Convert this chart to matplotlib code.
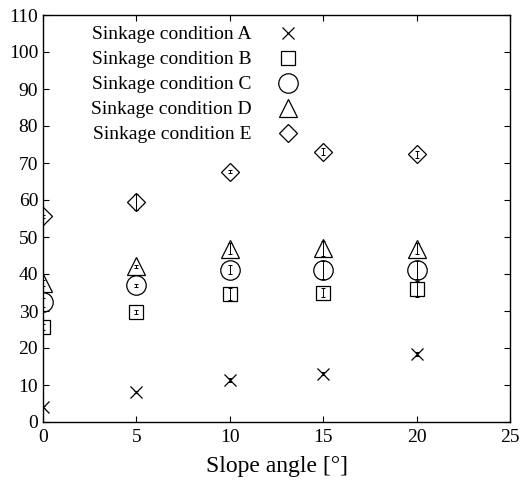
import matplotlib
matplotlib.use("Agg")
from matplotlib import pyplot as plt

plt.rcParams['font.family'] = ['Liberation Serif', 'DejaVu Serif']

slope = [0, 5, 10, 15, 20]
labels = ["Sinkage condition A", "Sinkage condition B", "Sinkage condition C",
          "Sinkage condition D", "Sinkage condition E"]
values_a = [4.0, 8.2, 11.4, 13.1, 18.3]
values_b = [25.8, 29.8, 34.6, 34.9, 35.9]
values_c = [32.3, 36.9, 41.2, 41.1, 41.1]
values_d = [37.6, 42.1, 46.8, 46.9, 46.8]
values_e = [55.6, 59.5, 67.6, 73.1, 72.3]
err_a = [0.3, 0.3, 0.5, 0.5, 0.5]
err_b = [0.8, 0.6, 1.5, 1.2, 2.2]
err_c = [1.2, 0.5, 1.3, 2.5, 2.5]
err_d = [0.8, 0.4, 1.5, 2.1, 1.5]
err_e = [0.4, 2.1, 0.4, 0.9, 0.9]

series = [values_a, values_b, values_c, values_d, values_e]
errors = [err_a, err_b, err_c, err_d, err_e]
markers = ['x', 's', 'o', '^', 'D']
sizes = [9, 9.5, 14, 13, 9]

fig = plt.figure(figsize=(5.29, 4.82), dpi=100)
ax = fig.add_axes([43 / 529, 1 - 422 / 482, (510 - 43) / 529, (422 - 15) / 482])

for vals, errs, m, ms, lab in zip(series, errors, markers, sizes, labels):
    ax.errorbar(slope, vals, yerr=errs, fmt='none', ecolor='black',
                elinewidth=0.7, capsize=1.3, capthick=0.7)
    ax.plot(slope, vals, linestyle='none', marker=m, markersize=ms,
            markerfacecolor='none', markeredgecolor='black',
            markeredgewidth=0.9, label=lab)

ax.set_xlim(0, 25)
ax.set_ylim(0, 110)
ax.set_xticks([0, 5, 10, 15, 20, 25])
ax.set_yticks(range(0, 111, 10))
ax.tick_params(direction='in', top=True, right=True, labelsize=14, length=4, width=0.8)
ax.tick_params(axis='x', pad=5)
for s in ax.spines.values():
    s.set_linewidth(1.0)
ax.set_xlabel("Slope angle [°]", fontsize=17, labelpad=7)

leg = ax.legend(loc='upper left', bbox_to_anchor=(0.08, 1.0), frameon=False,
                markerfirst=False, fontsize=14, handlelength=1.2, handletextpad=1.25,
                labelspacing=0.38, borderaxespad=0.15)

fig.savefig("out.png", dpi=100)
